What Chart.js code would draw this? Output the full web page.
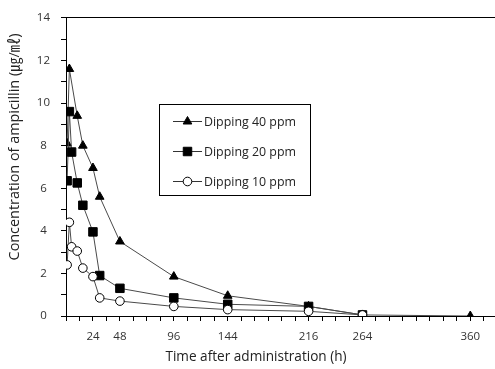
<!DOCTYPE html>
<html>
<head>
<meta charset="utf-8">
<script src="https://cdn.jsdelivr.net/npm/chart.js@4.4.1/dist/chart.umd.min.js"></script>
<style>
  html, body { margin: 0; padding: 0; background: #fff; }
  #wrap { width: 495px; height: 369px; }
</style>
</head>
<body>
<div id="wrap"><canvas id="pkChart"></canvas></div>
<script>
// sampling times (h) and concentrations
const hours = [1, 3, 5, 10, 15, 24, 30, 48, 96, 144, 216, 264, 360];
const dip40 = [8.1, 11.6, null, 9.4, 8.0, 6.95, 5.6, 3.5, 1.85, 0.95, 0.45, 0.05, 0];
const dip20 = [6.35, 9.6, 7.7, 6.25, 5.2, 3.95, 1.9, 1.3, 0.85, 0.55, 0.45, 0.05, null];
const dip10 = [2.4, 4.4, 3.25, 3.05, 2.25, 1.85, 0.85, 0.7, 0.45, 0.3, 0.22, 0.05, null];
const seriesNames = ['Dipping 40 ppm', 'Dipping 20 ppm', 'Dipping 10 ppm'];
const xLabels = [24, 48, 96, 144, 216, 264, 360];
const xTitle = 'Time after administration (h)';
const yTitle = 'Concentration of ampicillin (㎍/㎖)';

const font = "'Open Sans', 'Noto Sans CJK KR', sans-serif";

function toPoints(vals) {
    return hours.map((h, i) => ({ x: h, y: vals[i] }));
}

// legend box inside the plot + axis titles placed off-centre like the original
const boxLegend = {
    id: 'boxLegend',
    afterDraw(chart) {
        const ctx = chart.ctx;
        ctx.save();
        ctx.strokeStyle = '#000';
        ctx.lineWidth = 1;
        ctx.strokeRect(159.5, 104.5, 151, 91);
        chart.data.datasets.forEach((ds, i) => {
            const y = 121 + i * 30;
            ctx.strokeStyle = '#333';
            ctx.beginPath();
            ctx.moveTo(173, y + 0.5);
            ctx.lineTo(202, y + 0.5);
            ctx.stroke();
            ctx.fillStyle = ds.pointBackgroundColor;
            ctx.strokeStyle = '#000';
            ctx.lineWidth = 1;
            Chart.helpers.drawPoint(ctx, { pointStyle: ds.pointStyle, radius: ds.pointRadius, borderWidth: 1 }, 187.5, y + 0.5);
            ctx.fillStyle = '#222';
            ctx.font = '12.4px ' + font;
            ctx.textBaseline = 'middle';
            ctx.textAlign = 'left';
            ctx.fillText(ds.label, 204, y + 1);
        });

        ctx.fillStyle = '#222';
        ctx.textAlign = 'center';
        ctx.textBaseline = 'middle';
        ctx.font = '13.6px ' + font;
        ctx.fillText(xTitle, 256, 357);
        ctx.translate(15, 147);
        ctx.rotate(-Math.PI / 2);
        ctx.font = '14.4px ' + font;
        ctx.fillText(yTitle, 0, 0);
        ctx.restore();
    }
};

new Chart(document.getElementById('pkChart'), {
    type: 'scatter',
    data: {
        datasets: [
            { label: seriesNames[0], data: toPoints(dip40), pointStyle: 'triangle', pointRadius: 5,
              pointBackgroundColor: '#000', order: 3 },
            { label: seriesNames[1], data: toPoints(dip20), pointStyle: 'rect', pointRadius: 6,
              pointBackgroundColor: '#000', order: 2 },
            { label: seriesNames[2], data: toPoints(dip10), pointStyle: 'circle', pointRadius: 4.3,
              pointBackgroundColor: '#fff', order: 1 }
        ].map(ds => Object.assign(ds, {
            showLine: true,
            spanGaps: true,
            borderColor: '#4a4a4a',
            borderWidth: 1,
            pointBorderColor: '#000',
            pointBorderWidth: 1,
            pointHoverRadius: ds.pointRadius
        }))
    },
    options: {
        responsive: true,
        maintainAspectRatio: false,
        animation: false,
        layout: { autoPadding: false, padding: { top: 12, right: 0, left: 0, bottom: 0 } },
        plugins: { legend: { display: false }, tooltip: { enabled: false } },
        scales: {
            x: {
                type: 'linear',
                min: 0,
                max: 382,
                afterBuildTicks(axis) {
                    const t = [];
                    for (let v = 0; v <= 372; v += 12) t.push({ value: v });
                    axis.ticks = t;
                },
                afterFit(axis) { axis.height = 53; },
                border: { display: true, color: '#000', width: 1 },
                grid: { drawOnChartArea: false, drawTicks: true, tickLength: 5, tickColor: '#000' },
                ticks: {
                    autoSkip: false,
                    maxRotation: 0,
                    padding: 9,
                    color: '#333',
                    font: { family: font, size: 11.5 },
                    callback: v => (xLabels.includes(v) ? String(v) : '')
                }
            },
            xTop: {
                type: 'linear',
                position: 'top',
                min: 0,
                max: 382,
                afterFit(axis) { axis.height = 0; },
                border: { display: true, color: '#000', width: 1 },
                grid: { display: false },
                ticks: { display: false }
            },
            y: {
                min: 0,
                max: 14,
                afterBuildTicks(axis) {
                    const t = [];
                    for (let v = 0; v <= 14; v += 1) t.push({ value: v });
                    axis.ticks = t;
                },
                afterFit(axis) { axis.width = 66; },
                border: { display: true, color: '#000', width: 1 },
                grid: { drawOnChartArea: false, drawTicks: true, tickLength: 5, tickColor: '#000' },
                ticks: {
                    autoSkip: false,
                    crossAlign: 'center',
                    padding: 11,
                    color: '#333',
                    font: { family: font, size: 11.5 },
                    callback: v => (v % 2 === 0 ? String(v) : '')
                }
            }
        }
    },
    plugins: [boxLegend]
});
</script>
</body>
</html>
